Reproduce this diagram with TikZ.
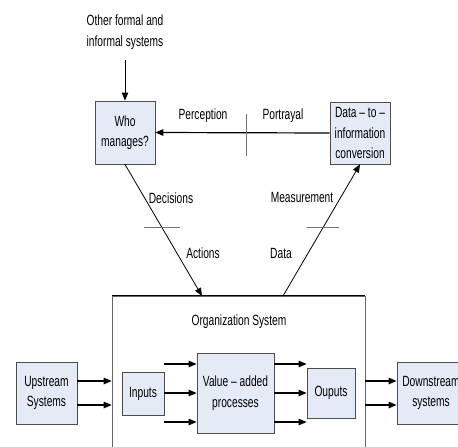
\documentclass[tikz,border=0pt]{standalone}
\usepackage{fontspec}
\setmainfont{Liberation Sans}[FakeStretch=0.69]
\usetikzlibrary{arrows.meta}
\usetikzlibrary{calc,positioning}

\begin{document}
\begin{tikzpicture}[x=1pt, y=-1pt, >={Triangle[length=8pt,width=6.5pt]},
 every node/.style={font=\fontsize{14.8}{20.5}\selectfont, align=center, inner sep=0pt},
 sysbox/.style={draw=black!70, line width=0.8pt, fill=cBox},
 flow/.style={->, line width=1.2pt},
 link/.style={line width=0.8pt},
 tick/.style={draw=black!55, line width=1pt}]
    \definecolor{cBox}{HTML}{E4EAF6}
    \useasboundingbox (0,0) rectangle (458,447);
    % boxes of the control loop
    \node (other) at (125,32) {Other formal and\\informal systems};
    \node[sysbox, minimum width=60pt, minimum height=63pt] (who) at (125,132.5) {Who\\manages?};
    \node[sysbox, minimum width=60pt, minimum height=62pt] (conv) at (360,133) {Data -- to --\\information\\conversion};
    % the organization and its chain
    \node[draw=black!60, line width=0.7pt, minimum width=253pt, minimum height=180pt] (org) at (238.5,386) {};
    \draw[line width=0.9pt] (org.north west) -- (org.north east);
    \node (orgtitle) at (239,322) {Organization System};
    \node[sysbox, minimum width=61pt, minimum height=62pt] (up) at (46.5,393) {Upstream\\Systems};
    \node[sysbox, minimum width=42pt, minimum height=43pt] (inputs) at (143,393.5) {Inputs};
    \node[sysbox, minimum width=77pt, minimum height=80pt] (value) at (235.5,393) {Value -- added\\processes};
    \node[sysbox, minimum width=48pt, minimum height=50pt] (outputs) at (331,393) {Ouputs};
    \node[sysbox, minimum width=68pt, minimum height=62pt] (down) at (431,393) {Downstream\\systems};
    % connectors
    \coordinate (otherend) at (125,60);
    \draw[->, link] (otherend) -- (who.north);
    \draw[flow] (conv.west) -- (who.east);
    \draw[tick] (246,114) -- (246,156);
    \node (perc) at (203,116) {Perception};
    \node (port) at (283,116) {Portrayal};
    \coordinate (act) at (202,296);
    \coordinate (meas) at (283,296);
    \draw[->, link] (who.south) -- coordinate[pos=0.477] (dtick) (act);
    \draw[->, link] (meas) -- coordinate[pos=0.523] (mtick) (conv.south);
    \draw[tick] ([xshift=-18pt]dtick) -- ([xshift=18pt]dtick);
    \draw[tick] ([xshift=-16pt]mtick) -- ([xshift=16pt]mtick);
    \node (dec) at (171,198) {Decisions};
    \node (acts) at (203,253) {Actions};
    \node (mlab) at (302,197) {Measurement};
    \node (dlab) at (281,253) {Data};
    % material flow
    \foreach \s in {12,-12} {
        \draw[flow] ([yshift=\s pt]up.east) -- ([yshift=\s pt]up.east -| org.west);
        \draw[flow] ([yshift=\s pt]down.west -| org.east) -- ([yshift=\s pt]down.west);
    }
    \foreach \s in {29,0,-29} {
        \draw[flow] ([yshift=\s pt]value.west -| inputs.east) -- ([yshift=\s pt]value.west);
        \draw[flow] ([yshift=\s pt]value.east) -- ([yshift=\s pt]value.east -| outputs.west);
    }
\end{tikzpicture}
\end{document}
